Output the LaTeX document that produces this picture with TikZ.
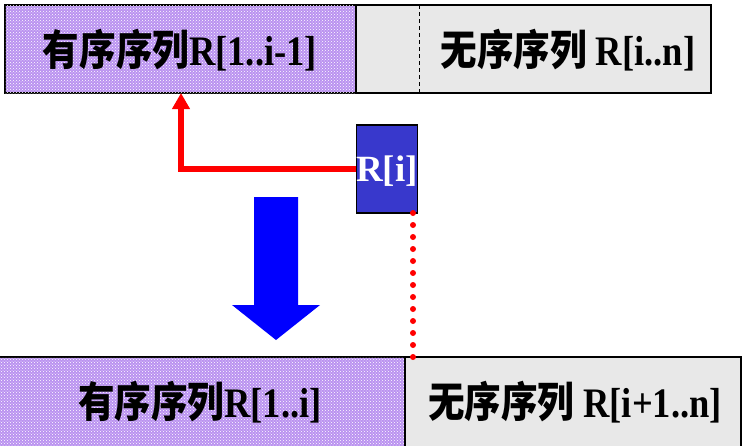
\documentclass[tikz,border=0pt]{standalone}
\usepackage{fontspec}
\setmainfont{Liberation Serif}
\newfontfamily\cjk{Noto Sans CJK SC}
\usetikzlibrary{arrows.meta,patterns}
\definecolor{lav}{RGB}{186,146,240}
\definecolor{lgray}{RGB}{232,232,232}
\definecolor{riblue}{RGB}{56,56,204}
\tikzset{
  cell/.style={draw=black,line width=1.3pt,inner sep=0pt},
  sortedcell/.style={cell,fill=lav,postaction={pattern=crosshatch dots,pattern color=white}},
  unsortedcell/.style={cell,fill=lgray},
  lbl/.style={inner sep=0pt,font=\fontsize{42}{46}\selectfont\bfseries,xscale=0.87,transform shape},
  redline/.style={red,line width=5.5pt},
}
\newcommand{\hz}[1]{{\cjk\bfseries #1}}
\begin{document}
\begin{tikzpicture}[x=1pt,y=-1pt]
\useasboundingbox (0,0) rectangle (746,445);
\begin{scope}
\clip (0,0) rectangle (746,445);
% top row
\node[sortedcell,minimum width=351pt,minimum height=88pt] (topS) at (180.5,49) {};
\node[unsortedcell,minimum width=355pt,minimum height=88pt] (topU) at (533.5,49) {};
\coordinate (dtop) at (419,5);
\coordinate (dbot) at (419,93);
\draw[black,line width=1pt,dash pattern=on 4pt off 3pt] (dtop) -- (dbot);
\node[lbl] (topSt) at (180,50) {\hz{有序序列}R[1..i-1]};
\node[lbl] (topUt) at (568,50) {\hz{无序序列} R[i..n]};
% bottom row
\node[sortedcell,minimum width=407pt,minimum height=92pt] (botS) at (201.5,403) {};
\node[unsortedcell,minimum width=336pt,minimum height=92pt] (botU) at (573,403) {};
\node[lbl] (botSt) at (200,402) {\hz{有序序列}R[1..i]};
\node[lbl] (botUt) at (575,402) {\hz{无序序列} R[i+1..n]};
\end{scope}
% R[i]
\node[cell,fill=riblue,minimum width=61pt,minimum height=88pt] (ri) at (387,169) {};
\node[inner sep=0pt,text=white,font=\fontsize{37}{40}\selectfont\bfseries] (rit) at (387,171) {R[i]};
% red arrow
\coordinate (bend) at (181,169);
\coordinate (tip) at (181,93);
\draw[redline,-{Triangle[width=17pt,length=16pt]}] (ri.west) -- (bend) -- (tip);
% red dotted line
\coordinate (dotA) at (413,213);
\coordinate (dotB) at (413,357);
\draw[red,line width=6pt,line cap=round,dash pattern=on 0pt off 12pt] (dotA) -- (dotB);
% blue arrow
\fill[blue] (254,197) -- (298,197) -- (298,305) -- (320,305) -- (276,340) -- (232,305) -- (254,305) -- cycle;
\end{tikzpicture}
\end{document}
